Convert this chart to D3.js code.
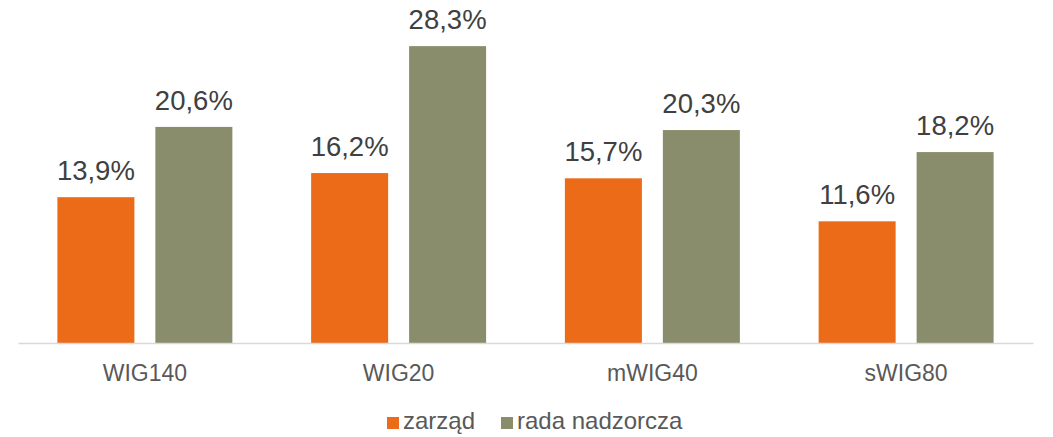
<!DOCTYPE html>
<html>
<head>
<meta charset="utf-8">
<script src="https://cdn.jsdelivr.net/npm/d3@7"></script>
<style>
  body { margin: 0; background: #fff; }
  svg { display: block; font-family: "Liberation Sans", Arial, sans-serif; }
</style>
</head>
<body>
<svg id="chart" width="1053" height="437"></svg>
<script>
'use strict';
// data
var categories = ['WIG140', 'WIG20', 'mWIG40', 'sWIG80'];
var seriesNames = ['zarząd', 'rada nadzorcza'];
var zarzad = [13.9, 16.2, 15.7, 11.6];
var rada = [20.6, 28.3, 20.3, 18.2];
var colors = ['#ec6b19', '#8a8d6c'];

var svg = d3.select('#chart');

var x0 = d3.scaleBand().domain(categories).range([18, 1033]);
var x1 = d3.scaleBand().domain(seriesNames)
  .range([0, x0.bandwidth()])
  .paddingInner(0.214).paddingOuter(0.402);
var y = d3.scaleLinear().domain([0, 30]).range([343, 28.3]);

var rows = categories.map(function (c, i) {
  return { cat: c, values: [zarzad[i], rada[i]] };
});

var groups = svg.selectAll('g.grp')
  .data(rows).enter()
  .append('g')
  .attr('class', 'grp')
  .attr('transform', function (d) { return 'translate(' + x0(d.cat) + ',0)'; });

var cells = groups.selectAll('g.cell')
  .data(function (d) {
    return d.values.map(function (v, j) { return { s: seriesNames[j], v: v, j: j }; });
  }).enter()
  .append('g').attr('class', 'cell');

cells.append('rect')
  .attr('x', function (d) { return x1(d.s); })
  .attr('y', function (d) { return y(d.v); })
  .attr('width', x1.bandwidth())
  .attr('height', function (d) { return y(0) - y(d.v); })
  .attr('fill', function (d) { return colors[d.j]; });

// value labels
cells.append('text')
  .attr('x', function (d) { return x1(d.s) + x1.bandwidth() / 2; })
  .attr('y', function (d) { return y(d.v) - 17; })
  .attr('text-anchor', 'middle')
  .attr('font-size', 27.5)
  .attr('fill', '#404040')
  .text(function (d) { return d.v.toFixed(1).replace('.', ',') + '%'; });

// category axis
var axis = svg.append('g').attr('transform', 'translate(0,' + y(0) + ')')
  .call(d3.axisBottom(x0).tickSize(0).tickPadding(0));
axis.select('.domain').attr('stroke', '#d9d9d9').attr('stroke-width', 1.5);
axis.selectAll('text')
  .attr('y', 37.5).attr('dy', null)
  .attr('font-size', 23)
  .attr('font-family', '"Liberation Sans", Arial, sans-serif')
  .attr('fill', '#595959');

// legend
var legendX = [387, 501];
var legend = svg.selectAll('g.leg')
  .data(seriesNames).enter()
  .append('g').attr('class', 'leg')
  .attr('transform', function (d, i) { return 'translate(' + legendX[i] + ',417)'; });
legend.append('rect')
  .attr('width', 12).attr('height', 12)
  .attr('fill', function (d, i) { return colors[i]; });
legend.append('text')
  .attr('x', 16).attr('y', 12)
  .attr('font-size', 24)
  .attr('fill', '#595959')
  .text(function (d) { return d; });
</script>
</body>
</html>
